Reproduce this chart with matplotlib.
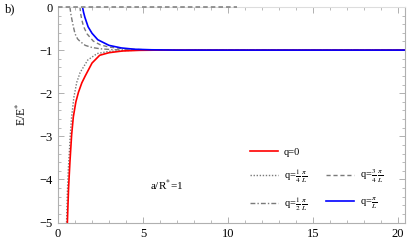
import matplotlib
matplotlib.use("Agg")
import matplotlib.pyplot as plt
from matplotlib.lines import Line2D
from matplotlib.ticker import MultipleLocator

plt.rcParams['font.family'] = ['Liberation Serif', 'DejaVu Serif']
plt.rcParams['mathtext.fontset'] = 'stix'

# values (y = E/E*)
q0_x = [0.55, 0.62, 0.70, 0.80, 0.90, 1.05, 1.20, 1.40, 1.60, 2.00, 2.45, 3.00, 3.80, 4.80, 6.00, 20.4]
q0_y = [-5.0, -4.2, -3.6, -2.97, -2.55, -2.2, -1.98, -1.76, -1.6, -1.3, -1.12, -1.06, -1.02, -1.005, -1.0, -1.0]

q14_x = [0.50, 0.55, 0.60, 0.66, 0.72, 0.80, 0.93, 1.10, 1.30, 1.75, 2.30, 3.00, 4.00, 5.00, 20.4]
q14_y = [-5.0, -4.3, -3.8, -3.4, -2.97, -2.55, -2.1, -1.75, -1.52, -1.23, -1.08, -1.03, -1.01, -1.0, -1.0]

q12_x = [0.70, 0.75, 0.82, 0.90, 1.00, 1.15, 1.30, 1.60, 2.00, 2.50, 3.20, 4.50, 20.4]
q12_y = [0.0, -0.15, -0.3, -0.45, -0.62, -0.74, -0.80, -0.89, -0.94, -0.97, -0.99, -1.0, -1.0]

q34_x = [1.29, 1.33, 1.40, 1.50, 1.70, 2.07, 2.50, 3.00, 4.00, 5.00, 6.50, 20.4]
q34_y = [0.0, -0.15, -0.3, -0.45, -0.62, -0.79, -0.88, -0.93, -0.975, -0.99, -1.0, -1.0]

q1_x = [1.44, 1.50, 1.58, 1.77, 2.00, 2.34, 3.00, 3.72, 4.50, 5.50, 7.00, 20.4]
q1_y = [0.0, -0.12, -0.24, -0.46, -0.61, -0.76, -0.89, -0.95, -0.98, -0.993, -1.0, -1.0]

top_x = [0.0, 10.5]
top_y = [0.0, 0.0]

labels = ['q=0', r'q=$\frac{1}{4}\,\frac{\pi}{L}$', r'q=$\frac{1}{2}\,\frac{\pi}{L}$',
          r'q=$\frac{3}{4}\,\frac{\pi}{L}$', r'q=$\frac{\pi}{L}$']

gray = '#7a7a7a'
frame = '#b0b0b0'
red = '#ff0000'
blue = '#0000ff'

fig = plt.figure(figsize=(4.15, 2.5), dpi=100)
ax = fig.add_axes([0.1398, 0.11, 0.836, 0.862])

ax.plot(top_x, top_y, color=gray, lw=1.1, dashes=(3, 2), clip_on=False, zorder=4)
ax.plot(q14_x, q14_y, color=gray, lw=1.0, dashes=(1, 1.2))
ax.plot(q12_x, q12_y, color=gray, lw=1.0, dashes=(3.5, 1.5, 1, 1.5))
ax.plot(q34_x, q34_y, color=gray, lw=1.0, dashes=(3, 2))
ax.plot(q0_x, q0_y, color=red, lw=1.2)
ax.plot(q1_x, q1_y, color=blue, lw=1.2)

ax.set_xlim(0, 20.4)
ax.set_ylim(-5, 0)
ax.xaxis.set_major_locator(MultipleLocator(5))
ax.xaxis.set_minor_locator(MultipleLocator(1))
ax.yaxis.set_major_locator(MultipleLocator(1))
ax.yaxis.set_minor_locator(MultipleLocator(0.2))
ax.tick_params(which='both', direction='in', color=frame, top=True, right=True,
               labelsize=9, pad=4)
ax.tick_params(which='major', length=4, width=0.7)
ax.tick_params(which='minor', length=2, width=0.6)
for s in ax.spines.values():
    s.set_color(frame)
    s.set_linewidth(0.8)
ax.spines['top'].set_color('#dddddd')

ax.set_ylabel('E/E$^{*}$', fontsize=8.5, labelpad=7)
fig.text(0.012, 0.95, 'b)', fontsize=9)
ax.text(0.265, 0.174, 'a/R$^{*}$=1', transform=ax.transAxes, fontsize=8, va='center')

blank = Line2D([], [], color='none')
handles = [
    Line2D([], [], color=red, lw=1.2),
    Line2D([], [], color=gray, lw=1.0, dashes=(1, 1.2)),
    Line2D([], [], color=gray, lw=1.0, dashes=(3.5, 1.5, 1, 1.5)),
    blank,
    Line2D([], [], color=gray, lw=1.0, dashes=(3, 2)),
    Line2D([], [], color=blue, lw=1.2),
]
leg_labels = [labels[0], labels[1], labels[2], '', labels[3], labels[4]]
ax.legend(handles, leg_labels, ncol=2, frameon=False, fontsize=7.5,
          loc='upper left', bbox_to_anchor=(0.525, 0.39), handlelength=2.7,
          columnspacing=1.8, labelspacing=1.0, handletextpad=0.6)

fig.savefig('out.png', dpi=100)
